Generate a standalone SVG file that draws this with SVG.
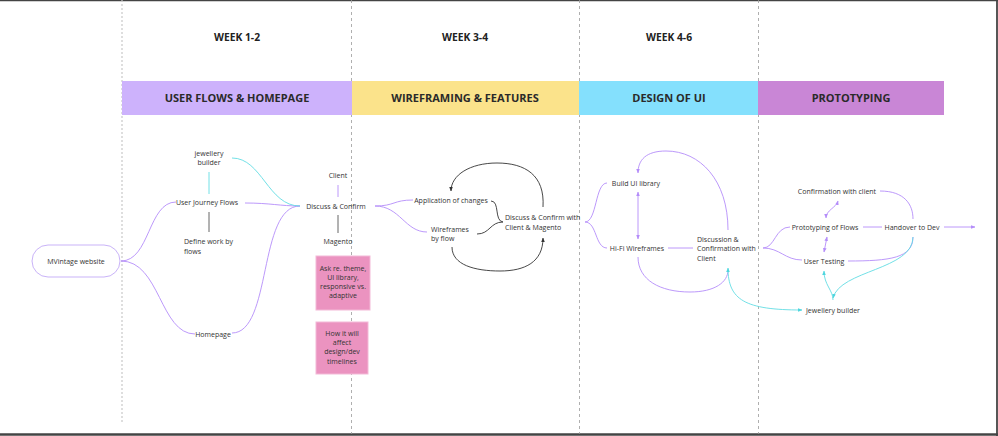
<svg xmlns="http://www.w3.org/2000/svg" width="998" height="436" viewBox="0 0 998 436">
<defs>
<style>
.t{font-family:"Open Sans","Liberation Sans",sans-serif;font-size:7px;fill:#333}
.c{text-anchor:middle}
.wk{font-family:"Open Sans","Liberation Sans",sans-serif;font-size:10.3px;font-weight:700;fill:#222;text-anchor:middle}
.bar{font-family:"Open Sans","Liberation Sans",sans-serif;font-size:11px;font-weight:700;fill:#2a2a2a;text-anchor:middle}
.p{fill:none;stroke:#B48DF9;stroke-width:0.9}
.cy{fill:none;stroke:#62DCE3;stroke-width:0.9}
.k{fill:none;stroke:#333;stroke-width:0.9}
.g{fill:none;stroke:#555;stroke-width:0.9}
.note{fill:#EB93C0;stroke:#F3B9D7;stroke-width:1}
</style>
<marker id="ap" viewBox="0 0 10 10" refX="9" refY="5" markerWidth="5" markerHeight="5" orient="auto-start-reverse"><path d="M0,1 L10,5 L0,9 z" fill="#B48DF9"/></marker>
<marker id="ac" viewBox="0 0 10 10" refX="9" refY="5" markerWidth="5" markerHeight="5" orient="auto-start-reverse"><path d="M0,1 L10,5 L0,9 z" fill="#4FD6DE"/></marker>
<marker id="ak" viewBox="0 0 10 10" refX="9" refY="5" markerWidth="5" markerHeight="5" orient="auto-start-reverse"><path d="M0,1 L10,5 L0,9 z" fill="#333"/></marker>
</defs>
<rect width="998" height="436" fill="#fff"/>
<!-- frame -->
<g id="frame" stroke="#444" fill="none">
<line x1="0" y1="0.5" x2="998" y2="0.5" stroke-width="1.5"/>
<line x1="997" y1="0" x2="997" y2="436" stroke-width="1.8"/>
<line x1="0" y1="434.5" x2="998" y2="434.5" stroke-width="2.5"/>
</g>
<!-- column dividers -->
<g id="dividers" fill="none">
<line x1="122" y1="0" x2="122" y2="424" stroke="#c8c8c8" stroke-width="1.2" stroke-dasharray="2,2"/>
<line x1="351.5" y1="0" x2="351.5" y2="434" stroke="#9a9a9a" stroke-width="0.8" stroke-dasharray="3,3"/>
<line x1="579.5" y1="0" x2="579.5" y2="434" stroke="#9a9a9a" stroke-width="0.8" stroke-dasharray="3,3"/>
<line x1="758.5" y1="0" x2="758.5" y2="434" stroke="#9a9a9a" stroke-width="0.8" stroke-dasharray="3,3"/>
</g>
<!-- headers -->
<g id="weeks">
<text class="wk" x="237" y="41">WEEK 1-2</text>
<text class="wk" x="465" y="41">WEEK 3-4</text>
<text class="wk" x="669" y="41">WEEK 4-6</text>
</g>
<g id="phase-1"><rect x="122" y="81" width="230" height="34" fill="#CDB2FC"/><text class="bar" x="237" y="102">USER FLOWS &amp; HOMEPAGE</text></g>
<g id="phase-2"><rect x="352" y="81" width="227" height="34" fill="#FBE38B"/><text class="bar" x="465" y="102">WIREFRAMING &amp; FEATURES</text></g>
<g id="phase-3"><rect x="579" y="81" width="179" height="34" fill="#84E0FD"/><text class="bar" x="669" y="102">DESIGN OF UI</text></g>
<g id="phase-4"><rect x="758" y="81" width="186" height="34" fill="#C986D6"/><text class="bar" x="851" y="102">PROTOTYPING</text></g>
<!-- connectors -->
<g id="connectors">
<path class="p" d="M121,261 C150,261 148,202 176,202"/>
<path class="p" d="M121,261 C160,261 160,334 195,334"/>
<path class="p" d="M245,203 C270,203 280,206 300,206"/>
<path class="p" d="M232,333 C272,333 258,206 300,206"/>
<path class="cy" d="M232,158 C262,158 268,206 300,206"/>
<line class="cy" x1="209" y1="172" x2="209" y2="194"/>
<line class="g" x1="209" y1="212" x2="209" y2="232"/>
<line class="p" x1="338" y1="185" x2="338" y2="197"/>
<line class="g" x1="338" y1="215" x2="338" y2="233"/>
<path class="p" d="M375,206 C395,206 393,200 413,200"/>
<path class="p" d="M375,206 C400,206 405,232 427,232"/>
<path class="k" d="M491,201 C500,201 494,221 503,222"/>
<path class="k" d="M477,234 C490,234 490,222 503,222"/>
<path class="k" d="M543,207 C545,175 525,163 497,163 C470,163 451,175 451,191" marker-end="url(#ak)"/>
<path class="k" d="M452,247 C452,265 475,271 500,271 C525,271 543,262 543,238" marker-end="url(#ak)"/>
<path class="p" d="M585,222 C597,222 595,183 607,183"/>
<path class="p" d="M585,222 C597,222 595,248 607,248"/>
<line class="p" x1="638" y1="192" x2="638" y2="239" marker-start="url(#ap)" marker-end="url(#ap)"/>
<line class="p" x1="668" y1="248" x2="693" y2="248"/>
<path class="p" d="M728,230 C728,180 700,151 666,151 C646,151 638,160 638,173" marker-end="url(#ap)"/>
<path class="p" d="M638,257 C638,280 660,292 690,292 C715,292 728,282 728,270"/>
<path class="cy" d="M728,268 C728,300 745,310 802,310" marker-start="url(#ac)" marker-end="url(#ac)"/>
<path class="p" d="M763,248 C775,248 775,227 790,227"/>
<path class="p" d="M763,248 C780,248 785,260 802,260"/>
<path class="p" d="M826,218 C826,210 836,208 838,201" marker-start="url(#ap)" marker-end="url(#ap)"/>
<line class="p" x1="827" y1="237" x2="824" y2="252" marker-start="url(#ap)" marker-end="url(#ap)"/>
<line class="p" x1="863" y1="227" x2="882" y2="227"/>
<line class="p" x1="944" y1="227" x2="975" y2="227" marker-end="url(#ap)"/>
<path class="p" d="M880,191 C905,191 913,205 913,219"/>
<path class="p" d="M848,261 C890,261 913,258 913,237"/>
<path class="cy" d="M913,237 C913,270 840,270 833,298" marker-end="url(#ac)"/>
<path class="cy" d="M833,300 C833,290 824,285 824,271" marker-end="url(#ac)"/>
</g>
<!-- nodes -->
<g id="mvintage"><rect x="32" y="245" width="88" height="32" rx="16" fill="#fff" stroke="#C9B3F8" stroke-width="1"/><text class="t c" x="76" y="263.5">MVintage website</text></g>
<g id="jewellery-builder-1"><text class="t c" x="209" y="155.5">jewellery</text><text class="t c" x="209" y="164.5">builder</text></g>
<g id="user-journey-flows"><text class="t c" x="207" y="204.5">User Journey Flows</text></g>
<g id="define-work"><text class="t" x="184" y="243.5">Define work by</text><text class="t" x="184" y="253.5">flows</text></g>
<g id="homepage"><text class="t c" x="213" y="336.5">Homepage</text></g>
<g id="discuss-confirm"><text class="t c" x="336" y="208.5">Discuss &amp; Confirm</text></g>
<g id="client"><text class="t c" x="338" y="177.5">Client</text></g>
<g id="magento"><text class="t c" x="338" y="243.5">Magento</text></g>
<g id="note-1"><rect class="note" x="316" y="256" width="54" height="54"/><text class="t c" x="343" y="270.5">Ask re. theme,</text><text class="t c" x="343" y="279.5">UI library,</text><text class="t c" x="343" y="288.5">responsive vs.</text><text class="t c" x="343" y="297.5">adaptive</text></g>
<g id="note-2"><rect class="note" x="316" y="322" width="52" height="52"/><text class="t c" x="342" y="335.5">How it will</text><text class="t c" x="342" y="345">affect</text><text class="t c" x="342" y="354">design/dev</text><text class="t c" x="342" y="363.5">timelines</text></g>
<g id="application"><text class="t c" x="451" y="202.5">Application of changes</text></g>
<g id="wireframes-by-flow"><text class="t" x="431" y="231.5">Wireframes</text><text class="t" x="431" y="240.5">by flow</text></g>
<g id="discuss-confirm-2"><text class="t" x="505" y="219.5">Discuss &amp; Confirm with</text><text class="t" x="505" y="229.5">Client &amp; Magento</text></g>
<g id="build-ui"><text class="t c" x="636" y="185.5">Build UI library</text></g>
<g id="hifi"><text class="t c" x="637" y="250.5">Hi-Fi Wireframes</text></g>
<g id="discussion"><text class="t" x="697" y="241.5">Discussion &amp;</text><text class="t" x="697" y="250.5">Confirmation with</text><text class="t" x="697" y="260.5">Client</text></g>
<g id="confirmation-client"><text class="t c" x="837" y="193.5">Confirmation with client</text></g>
<g id="prototyping-flows"><text class="t c" x="825" y="229.5">Prototyping of Flows</text></g>
<g id="handover"><text class="t c" x="912" y="229.5">Handover to Dev</text></g>
<g id="user-testing"><text class="t c" x="824" y="263.5">User Testing</text></g>
<g id="jewellery-builder-2"><text class="t c" x="833" y="312.5">Jewellery builder</text></g>
</svg>
